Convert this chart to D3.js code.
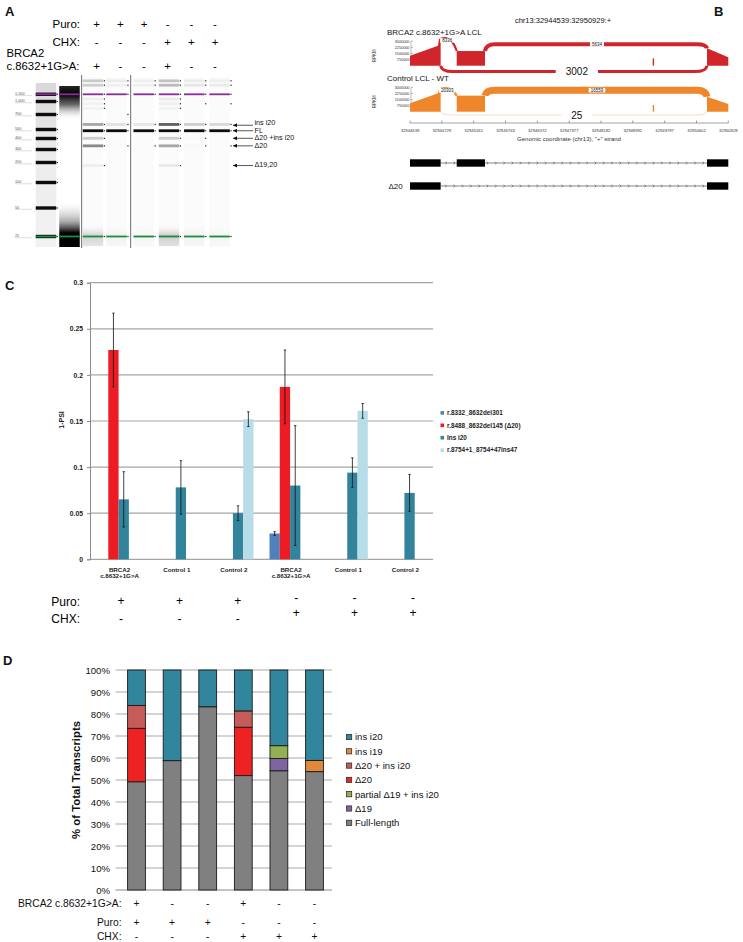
<!DOCTYPE html>
<html>
<head>
<meta charset="utf-8">
<script src="https://cdn.jsdelivr.net/npm/d3@7/dist/d3.min.js"></script>
<style>
html,body{margin:0;padding:0;background:#fff;}
svg{display:block;}
</style>
</head>
<body>
<svg id="fig" width="743" height="942" xmlns="http://www.w3.org/2000/svg"></svg>
<script>
// ================= DATA =================
// ---- Panel A : capillary gel ----
const gelLadderSizes = [25, 50, 100, 200, 300, 400, 500, 700, 1000, 1500];
const gelLanes = ["s1", "s2", "s3", "s4", "s5", "s6"];
const gelPuro = ["+", "+", "+", "-", "-", "-"];
const gelCHX = ["-", "-", "-", "+", "+", "+"];
const gelVariant = ["+", "-", "-", "+", "-", "-"];
const gelBandSizes = [3200, 2500, 1150, 940, 830, 700, 560, 485, 402, 330, 180];
const gelBandIntensity = [
  [0.32, 0.15, 0.12, 0.35, 0.15, 0.12],
  [0.30, 0.12, 0.12, 0.38, 0.18, 0.15],
  [0.12, 0, 0, 0.15, 0, 0],
  [0.10, 0, 0, 0.12, 0.03, 0.03],
  [0.10, 0, 0, 0.10, 0, 0],
  [0, 0.04, 0, 0, 0, 0],
  [0.45, 0.20, 0.18, 0.70, 0.30, 0.25],
  [0.95, 0.95, 0.95, 0.95, 0.95, 0.95],
  [0.30, 0, 0, 0.30, 0.05, 0],
  [0.55, 0.04, 0.04, 0.45, 0.06, 0.04],
  [0.12, 0, 0, 0.15, 0, 0]
];
const gelBottomSmear = [0.35, 0.08, 0.05, 0.40, 0.08, 0.05];
const gelArrowLabels = ["ins i20", "FL", "Δ20 +ins i20", "Δ20", "Δ19,20"];
const gelArrowSizes = [560, 485, 402, 330, 180];

// ---- Panel B : sashimi plot ----
const bTitle = "chr13:32944539:32950929:+";
const bTickLabels = [32944539, 32944729, 32945161, 32945763, 32946572, 32947377, 32948182, 32948992, 32949797, 32950602, 32950928];
const bYTicks = [750000, 1500000, 2250000, 3000000];
const bTrackNames = ["BRCA2 c.8632+1G>A LCL", "Control LCL - WT"];
const bExons = [[32944539, 32944722], [32944931, 32945375], [32950710, 32950928]];
const covMutant = [
  [[32944539, 1230000], [32944706, 2450000], [32944712, 3300000], [32944722, 3300000]],
  [[32944931, 1800000], [32945375, 1800000]],
  [[32950710, 2140000], [32950928, 1030000]],
  [[32949495, 900000], [32949530, 900000]]
];
const covControl = [
  [[32944539, 1030000], [32944706, 2260000], [32944712, 2800000], [32944722, 2800000]],
  [[32944931, 1970000], [32945375, 1970000]],
  [[32950710, 1840000], [32950928, 950000]],
  [[32949495, 820000], [32949530, 820000]]
];
const junMutant = [[32944722, 32944931, 8336, "up"], [32945375, 32950710, 5634, "up"], [32944722, 32950710, 3002, "down"]];
const junControl = [[32944722, 32944931, 20303, "up"], [32945375, 32950710, 16559, "up"], [32944722, 32950710, 25, "down"]];
const bIsoformLabels = ["", "Δ20"];
const bIsoformExons = [[0, 1, 2], [0, 2]];

// ---- Panel C : 1-PSI bar chart ----
const cCategories = ["BRCA2\nc.8632+1G>A", "Control 1", "Control 2", "BRCA2\nc.8632+1G>A", "Control 1", "Control 2"];
const cSeriesNames = ["r.8332_8632del301", "r.8488_8632del145 (Δ20)", "Ins i20", "r.8754+1_8754+47ins47"];
const cValues = [
  [null, null, null, 0.028, null, null],
  [0.227, null, null, 0.187, null, null],
  [0.065, 0.078, 0.050, 0.080, 0.094, 0.072],
  [null, null, 0.152, null, 0.161, null]
];
const cErrors = [
  [null, null, null, 0.002, null, null],
  [0.040, null, null, 0.040, null, null],
  [0.030, 0.029, 0.008, 0.065, 0.016, 0.020],
  [null, null, 0.008, null, 0.008, null]
];
const cYTicks = [0, 0.05, 0.1, 0.15, 0.2, 0.25, 0.3];
const cPuro = ["+", "+", "+", "-", "-", "-"];
const cCHX = ["-", "-", "-", "+", "+", "+"];

// ---- Panel D : stacked % of transcripts ----
const dKeys = ["Full-length", "Δ19", "partial Δ19 + ins i20", "Δ20", "Δ20 + ins i20", "ins i19", "ins i20"];
const dFullLength = [49.2, 58.8, 83.3, 52.0, 54.2, 53.8];
const dDelta19 = [0, 0, 0, 0, 5.6, 0];
const dPartialDelta19Ins = [0, 0, 0, 0, 5.8, 0];
const dDelta20 = [24.3, 0, 0, 22.0, 0, 0];
const dDelta20Ins = [10.4, 0, 0, 7.4, 0, 0];
const dInsI19 = [0, 0, 0, 0, 0, 5.1];
const dInsI20 = [16.1, 41.2, 16.7, 18.6, 34.4, 41.1];
const dYTicks = [0, 10, 20, 30, 40, 50, 60, 70, 80, 90, 100];
const dVariant = ["+", "-", "-", "+", "-", "-"];
const dPuro = ["+", "+", "+", "-", "-", "-"];
const dCHX = ["-", "-", "-", "+", "+", "+"];

// ================= DRAWING =================
const SANS = '"Liberation Sans", Arial, Helvetica, sans-serif';
const svg = d3.select("#fig").attr("font-family", SANS);
svg.append("rect").attr("width", 743).attr("height", 942).attr("fill", "#fff");
const defs = svg.append("defs");
defs.append("filter").attr("id", "soft").attr("x", "-20%").attr("y", "-200%").attr("width", "140%").attr("height", "500%")
  .append("feGaussianBlur").attr("stdDeviation", 0.35);
function vGrad(id, stops) {
  const g = defs.append("linearGradient").attr("id", id).attr("x1", 0).attr("y1", 0).attr("x2", 0).attr("y2", 1);
  stops.forEach(([o, c, op]) => g.append("stop").attr("offset", o).attr("stop-color", c).attr("stop-opacity", op == null ? 1 : op));
}

// panel letters
function letter(t, x, y, s) {
  svg.append("text").attr("x", x).attr("y", y).attr("font-size", s).attr("font-weight", "bold").attr("fill", "#111").text(t);
}
letter("A", 5, 16, 13); letter("B", 714, 16, 13); letter("C", 5, 290, 13); letter("D", 3, 665, 13);

// ---------- Panel A ----------
(function () {
  const g = svg.append("g");
  const yGel = d3.scaleLog().domain(gelLadderSizes)
    .range([236.5, 208, 182.5, 162.5, 149.5, 138.5, 129.5, 114.5, 101.5, 94.3]);
  const laneW = 20.5;
  const xL = d3.scalePoint().domain(["ladder", "blank", "s1", "s2"]).range([46, 116.5]);
  const xR = d3.scalePoint().domain(["s3", "s4", "s5", "s6"]).range([143.7, 219.6]);
  const laneX = id => xL.domain().includes(id) ? xL(id) : xR(id);
  const allLanes = ["ladder", "blank"].concat(gelLanes);
  const gelTop = 77, gelBottom = 247;

  vGrad("ladderBg", [[0, "#d8d8d8"], [0.45, "#ececec"], [1, "#f2f2f2"]]);
  vGrad("blankTop", [[0, "#000", 0.85], [0.25, "#000", 1], [0.55, "#444", 0.8], [1, "#fff", 0]]);
  vGrad("blankBot", [[0, "#fff", 0], [0.45, "#777", 0.6], [0.7, "#000", 1], [1, "#000", 1]]);
  vGrad("smear", [[0, "#fff", 0], [0.5, "#888", 1], [1, "#bbb", 1]]);

  g.append("rect").attr("x", laneX("ladder") - laneW / 2).attr("y", gelTop + 6).attr("width", laneW)
    .attr("height", gelBottom - gelTop - 6).attr("fill", "url(#ladderBg)");
  gelLanes.forEach(l => g.append("rect").attr("x", laneX(l) - laneW / 2).attr("y", gelTop)
    .attr("width", laneW).attr("height", gelBottom - gelTop).attr("fill", "#fbfbfb"));
  g.append("rect").attr("x", laneX("blank") - laneW / 2).attr("y", 86).attr("width", laneW).attr("height", 34)
    .attr("fill", "url(#blankTop)");
  g.append("rect").attr("x", laneX("blank") - laneW / 2).attr("y", 200).attr("width", laneW).attr("height", 47)
    .attr("fill", "url(#blankBot)");
  gelLanes.forEach((l, j) => g.append("rect").attr("x", laneX(l) - laneW / 2).attr("y", 224).attr("width", laneW)
    .attr("height", 22).attr("fill", "url(#smear)").attr("opacity", gelBottomSmear[j]));

  gelLadderSizes.forEach(s => {
    g.append("rect").attr("x", laneX("ladder") - laneW / 2).attr("y", yGel(s) - 1.7).attr("width", laneW)
      .attr("height", 3.4).attr("fill", "#0a0a0a").attr("filter", "url(#soft)");
    g.append("rect").attr("x", laneX("ladder") + laneW / 2 + 0.5).attr("y", yGel(s) - 0.6).attr("width", 1.2).attr("height", 1.2).attr("fill", "#222");
  });

  gelBandSizes.forEach((s, i) => {
    gelLanes.forEach((l, j) => {
      const v = gelBandIntensity[i][j];
      if (!v) return;
      g.append("rect").attr("x", laneX(l) - laneW / 2).attr("y", yGel(s) - 1.4).attr("width", laneW)
        .attr("height", 2.8).attr("fill", d3.interpolateGreys(v)).attr("filter", "url(#soft)");
      g.append("rect").attr("x", laneX(l) + laneW / 2 + 0.6).attr("y", yGel(s) - 0.6).attr("width", 1.2).attr("height", 1.2).attr("fill", "#222");
    });
  });

  allLanes.forEach(l => {
    g.append("rect").attr("x", laneX(l) - laneW / 2).attr("y", yGel(1500) - 0.9).attr("width", laneW).attr("height", 1.8).attr("fill", "#8a2b99");
    g.append("rect").attr("x", laneX(l) - laneW / 2).attr("y", yGel(25) - 0.9).attr("width", laneW).attr("height", 1.8).attr("fill", "#1f8a3e");
    if (l !== "ladder" && l !== "blank") {
      g.append("rect").attr("x", laneX(l) + laneW / 2 + 0.6).attr("y", yGel(1500) - 0.6).attr("width", 1.2).attr("height", 1.2).attr("fill", "#222");
      g.append("rect").attr("x", laneX(l) + laneW / 2 + 0.6).attr("y", yGel(25) - 0.6).attr("width", 1.2).attr("height", 1.2).attr("fill", "#222");
    }
  });

  gelLadderSizes.forEach(s => {
    g.append("text").attr("x", 15).attr("y", yGel(s) + 0.6).attr("font-size", 3.8).attr("fill", "#555").text(d3.format(",")(s));
    g.append("line").attr("x1", 15).attr("x2", 32).attr("y1", yGel(s) + 1.3).attr("y2", yGel(s) + 1.3).attr("stroke", "#aaa").attr("stroke-width", 0.4);
  });

  [(laneX("blank") + laneX("s1")) / 2 + 0.4, (laneX("s2") + laneX("s3")) / 2 + 0.6].forEach(x =>
    g.append("line").attr("x1", x).attr("x2", x).attr("y1", 75).attr("y2", 248).attr("stroke", "#6a6a6a").attr("stroke-width", 1));

  const xs = d3.scalePoint().domain(gelLanes).range([96.7, 215]);
  g.append("text").attr("x", 80).attr("y", 27.5).attr("text-anchor", "end").attr("font-size", 11.5).text("Puro:");
  g.append("text").attr("x", 80).attr("y", 46).attr("text-anchor", "end").attr("font-size", 11.5).text("CHX:");
  g.append("text").attr("x", 6.5).attr("y", 57).attr("font-size", 11.3).text("BRCA2");
  g.append("text").attr("x", 6.5).attr("y", 70).attr("font-size", 11.3).text("c.8632+1G>A:");
  [[gelPuro, 27.5], [gelCHX, 46], [gelVariant, 70]].forEach(([arr, y]) =>
    arr.forEach((s, i) => g.append("text").attr("x", xs(gelLanes[i])).attr("y", y).attr("text-anchor", "middle")
      .attr("font-size", 11.5).text(s)));

  defs.append("marker").attr("id", "arrA").attr("viewBox", "0 0 6 6").attr("refX", 6).attr("refY", 3)
    .attr("markerWidth", 4.5).attr("markerHeight", 4).attr("markerUnits", "userSpaceOnUse").attr("orient", "auto")
    .append("path").attr("d", "M0,0 L6,3 L0,6 z").attr("fill", "#111");
  const textShift = [-0.3, 1.8, 1.6, 2.6, 1.5];
  gelArrowSizes.forEach((s, i) => {
    const y = yGel(s) + (i === 0 ? 0.8 : 0);
    g.append("line").attr("x1", 253).attr("x2", 233).attr("y1", y).attr("y2", y).attr("stroke", "#111")
      .attr("stroke-width", 0.7).attr("marker-end", "url(#arrA)");
    g.append("text").attr("x", 254.5).attr("y", y + textShift[i]).attr("font-size", 7.2).attr("fill", "#111").text(gelArrowLabels[i]);
  });
})();

// ---------- Panel B ----------
(function () {
  const g = svg.append("g");
  const xB = d3.scaleLinear().domain(bTickLabels).range(d3.quantize(d3.interpolate(410, 728.3), bTickLabels.length));
  g.append("text").attr("x", 563).attr("y", 22.5).attr("text-anchor", "middle").attr("font-size", 7.5).attr("fill", "#111").text(bTitle);

  const tracks = [
    { name: bTrackNames[0], color: "#d0262b", base: 65.7, cov: covMutant, jun: junMutant, nameY: 34.5 },
    { name: bTrackNames[1], color: "#f0862a", base: 111.7, cov: covControl, jun: junControl, nameY: 81.2 }
  ];
  const sw = d3.scaleSqrt().domain([0, 16559]).range([0, 7]).clamp(true);
  const op = d3.scaleLog().domain([25, 3000]).range([0.3, 1]).clamp(true);

  tracks.forEach(t => {
    const y = d3.scaleLinear().domain([0, 3400000]).range([t.base, t.base - 27.7]);
    g.append("text").attr("x", 387).attr("y", t.nameY).attr("font-size", 8).attr("fill", "#111").text(t.name);
    g.append("line").attr("x1", 411).attr("x2", 411).attr("y1", y(0) - 6).attr("y2", y(3000000)).attr("stroke", "#555").attr("stroke-width", 0.4);
    bYTicks.forEach(v => {
      g.append("line").attr("x1", 411).attr("x2", 413).attr("y1", y(v)).attr("y2", y(v)).attr("stroke", "#555").attr("stroke-width", 0.4);
      g.append("text").attr("x", 409.5).attr("y", y(v) + 1.3).attr("text-anchor", "end").attr("font-size", 3.8).attr("fill", "#333").text(v);
    });
    g.append("text").attr("transform", `translate(376,${t.base - 10}) rotate(-90)`).attr("text-anchor", "middle")
      .attr("font-size", 4.5).attr("fill", "#333").text("RPKM");
    const area = d3.area().x(d => xB(d[0])).y0(t.base).y1(d => y(d[1]));
    t.cov.forEach(seg => g.append("path").attr("d", area(seg)).attr("fill", t.color));
    const covAt = pos => {
      for (const seg of t.cov) for (const p of seg) if (p[0] === pos) return p[1];
      return 0;
    };
    t.jun.forEach(([a, b, n, side]) => {
      const x1 = xB(a), x2 = xB(b);
      let w = Math.max(1, sw(n));
      let d, yp, labelY, lx;
      if (side === "up") {
        const y1 = y(covAt(a)), y2 = y(covAt(b));
        if (x2 - x1 < 30) {
          w = Math.min(w, 2.2);
          yp = Math.min(y1, y2) - 1.5;
          d = `M${x1},${y1} C${x1 + 4},${yp} ${x2 - 4},${yp} ${x2},${y2}`;
          labelY = Math.min(y1, y2) + 1.5;
          lx = (x1 + x2) / 2 - 1.5;
        } else {
          yp = Math.min(y1, y2) - 2 - w * 0.5;
          d = `M${x1},${y1} Q${x1 + 1},${yp} ${x1 + 10},${yp} L${x2 - 10},${yp} Q${x2 - 1},${yp} ${x2},${y2}`;
          labelY = yp;
          lx = (x1 + x2) / 2 + 1;
        }
      } else {
        yp = t.base + 2 + w * 1.3;
        d = `M${x1},${t.base} Q${x1 + 1},${yp} ${x1 + 12},${yp} L${x2 - 12},${yp} Q${x2 - 1},${yp} ${x2},${t.base}`;
        labelY = yp;
        lx = (x1 + x2) / 2 + 3;
      }
      g.append("path").attr("d", d).attr("fill", "none").attr("stroke", t.color).attr("stroke-width", w).attr("stroke-opacity", op(n));
      const big = side === "down";
      const fs = big ? 10 : 4.5;
      const txt = g.append("text").attr("x", lx).attr("y", labelY + fs * 0.36).attr("text-anchor", "middle")
        .attr("font-size", fs).attr("fill", "#111").text(n);
      const tw = txt.node().getComputedTextLength();
      const pad = big ? 10 : 2;
      g.insert("rect", () => txt.node()).attr("x", lx - tw / 2 - pad).attr("y", labelY - fs * 0.5).attr("width", tw + pad * 2)
        .attr("height", fs).attr("fill", "#fff");
    });
  });

  g.append("line").attr("x1", 410).attr("x2", 728.3).attr("y1", 123).attr("y2", 123).attr("stroke", "#444").attr("stroke-width", 0.5);
  bTickLabels.forEach(v => {
    g.append("line").attr("x1", xB(v)).attr("x2", xB(v)).attr("y1", 120.5).attr("y2", 123).attr("stroke", "#444").attr("stroke-width", 0.5);
    g.append("text").attr("x", xB(v)).attr("y", 131.7).attr("text-anchor", "middle").attr("font-size", 4.2).attr("fill", "#333").text(v);
  });
  g.append("text").attr("x", 569).attr("y", 140.7).attr("text-anchor", "middle").attr("font-size", 6).attr("fill", "#333")
    .text('Genomic coordinate (chr13), "+" strand');

  [163, 186].forEach((yc, r) => {
    const ex = bIsoformExons[r].map(i => bExons[i]);
    const xa = xB(ex[0][1]), xb = xB(ex[ex.length - 1][0]);
    g.append("line").attr("x1", xa).attr("x2", xb).attr("y1", yc).attr("y2", yc).attr("stroke", "#333").attr("stroke-width", 0.6);
    d3.range(xa + 6, xb - 2, 8.3).forEach(x => g.append("path").attr("d", `M${x - 1.4},${yc - 1.4} L${x},${yc} L${x - 1.4},${yc + 1.4}`)
      .attr("fill", "none").attr("stroke", "#333").attr("stroke-width", 0.5));
    ex.forEach(e => g.append("rect").attr("x", xB(e[0])).attr("y", yc - 3.7).attr("width", xB(e[1]) - xB(e[0])).attr("height", 7.4).attr("fill", "#000"));
    if (bIsoformLabels[r]) g.append("text").attr("x", 388.5).attr("y", yc + 3).attr("font-size", 8).attr("fill", "#111").text(bIsoformLabels[r]);
  });
})();

// ---------- Panel C ----------
(function () {
  const g = svg.append("g");
  const colors = ["#4f81bd", "#ed1c24", "#31849b", "#b7dde8"];
  const yC = d3.scaleLinear().domain([0, 0.3]).range([559.3, 282.7]);
  const x0 = d3.scaleBand().domain(d3.range(cCategories.length)).range([90, 433]).paddingInner(0.28).paddingOuter(0.14);
  const x1 = d3.scaleBand().domain(d3.range(cSeriesNames.length)).range([0, x0.bandwidth()]);

  cYTicks.forEach(v => g.append("line").attr("x1", 90).attr("x2", 433).attr("y1", yC(v)).attr("y2", yC(v))
    .attr("stroke", "#a5a5a5").attr("stroke-width", 1.2));
  const ax = g.append("g").attr("transform", "translate(90,0)")
    .call(d3.axisLeft(yC).tickValues(cYTicks).tickSize(3).tickPadding(4).tickFormat(d => String(+d.toFixed(2))));
  ax.attr("font-family", SANS).attr("font-size", 6.8).attr("font-weight", "bold");
  ax.select(".domain").attr("stroke", "#8a8a8a").attr("stroke-width", 1);
  ax.selectAll(".tick line").attr("stroke", "#8a8a8a");
  ax.selectAll(".tick text").attr("fill", "#222");
  g.append("text").attr("transform", "translate(64,420) rotate(-90)").attr("text-anchor", "middle").attr("font-size", 7)
    .attr("font-weight", "bold").attr("fill", "#222").text("1-PSI");

  cSeriesNames.forEach((s, si) => {
    cValues[si].forEach((v, ci) => {
      if (v == null) return;
      const x = x0(ci) + x1(si);
      g.append("rect").attr("x", x).attr("y", yC(v)).attr("width", x1.bandwidth()).attr("height", yC(0) - yC(v)).attr("fill", colors[si]);
    });
  });
  cSeriesNames.forEach((s, si) => {
    cValues[si].forEach((v, ci) => {
      const e = cErrors[si][ci];
      if (v == null || e == null) return;
      const cx = x0(ci) + x1(si) + x1.bandwidth() / 2;
      g.append("line").attr("x1", cx).attr("x2", cx).attr("y1", yC(v - e)).attr("y2", yC(v + e)).attr("stroke", "#111").attr("stroke-width", 0.8);
      [v - e, v + e].forEach(b => g.append("line").attr("x1", cx - 1.2).attr("x2", cx + 1.2).attr("y1", yC(b)).attr("y2", yC(b))
        .attr("stroke", "#111").attr("stroke-width", 0.8));
    });
  });

  cCategories.forEach((c, ci) => {
    const t = g.append("text").attr("text-anchor", "middle").attr("font-size", 6.2).attr("font-weight", "bold").attr("fill", "#222");
    c.split("\n").forEach((line, li) => t.append("tspan").attr("x", x0(ci) + x0.bandwidth() / 2 + 1).attr("y", 571.5 + li * 6.6).text(line));
  });

  cSeriesNames.forEach((s, si) => {
    const yy = 413 + si * 12.4;
    g.append("rect").attr("x", 440.5).attr("y", yy - 1.9).attr("width", 3.6).attr("height", 3.6).attr("fill", colors[si]);
    g.append("text").attr("x", 447).attr("y", yy + 2.2).attr("font-size", 6.4).attr("font-weight", "bold").attr("fill", "#222").text(s);
  });

  const xs = d3.scalePoint().domain(d3.range(6)).range([121, 413]);
  g.append("text").attr("x", 80).attr("y", 606).attr("text-anchor", "end").attr("font-size", 12).text("Puro:");
  g.append("text").attr("x", 80).attr("y", 623.3).attr("text-anchor", "end").attr("font-size", 12).text("CHX:");
  [cPuro, cCHX].forEach((arr, r) => arr.forEach((s, i) => {
    const y = (i < 3 ? [605, 623] : [601.7, 617.3])[r];
    g.append("text").attr("x", xs(i)).attr("y", y).attr("text-anchor", "middle").attr("font-size", 12).text(s);
  }));
})();

// ---------- Panel D ----------
(function () {
  const g = svg.append("g");
  const colorMap = {
    "Full-length": "#808080", "Δ19": "#8064a2", "partial Δ19 + ins i20": "#93b150", "Δ20": "#ee2222",
    "Δ20 + ins i20": "#c65c59", "ins i19": "#e3883a", "ins i20": "#31859c"
  };
  const cols = [dFullLength, dDelta19, dPartialDelta19Ins, dDelta20, dDelta20Ins, dInsI19, dInsI20];
  const rows = d3.range(dFullLength.length).map(i => {
    const o = { i };
    dKeys.forEach((k, ki) => o[k] = cols[ki][i]);
    return o;
  });
  const stack = d3.stack().keys(dKeys)(rows);
  const yD = d3.scaleLinear().domain([0, 100]).range([890, 670]);
  const xD = d3.scaleBand().domain(d3.range(rows.length)).range([118.7, 332.3]).paddingInner(0.5).paddingOuter(0.25);

  dYTicks.forEach(v => g.append("line").attr("x1", 115.5).attr("x2", 332).attr("y1", yD(v)).attr("y2", yD(v))
    .attr("stroke", v === 0 ? "#8a8a8a" : "#a9a9a9").attr("stroke-width", 1));
  const ax = g.append("g").attr("transform", "translate(116.5,0)")
    .call(d3.axisLeft(yD).tickValues(dYTicks).tickSize(0).tickPadding(6.5).tickFormat(d => d + "%"));
  ax.attr("font-family", SANS).attr("font-size", 9.6);
  ax.select(".domain").remove();
  ax.selectAll(".tick text").attr("fill", "#111");
  g.append("text").attr("transform", "translate(80,780) rotate(-90)").attr("text-anchor", "middle").attr("font-size", 11.4)
    .attr("font-weight", "bold").attr("fill", "#111").text("% of Total Transcripts");

  stack.forEach(layer => layer.forEach((d, i) => {
    if (d[1] - d[0] <= 0) return;
    g.append("rect").attr("x", xD(i)).attr("y", yD(d[1])).attr("width", xD.bandwidth()).attr("height", yD(d[0]) - yD(d[1]))
      .attr("fill", colorMap[layer.key]).attr("stroke", "#1a1a1a").attr("stroke-width", 0.9);
  }));

  dKeys.slice().reverse().forEach((k, li) => {
    const yy = 737 + li * 14.3;
    g.append("rect").attr("x", 346.5).attr("y", yy - 2.6).attr("width", 5.2).attr("height", 5.2).attr("fill", colorMap[k])
      .attr("stroke", "#333").attr("stroke-width", 0.8);
    g.append("text").attr("x", 355).attr("y", yy + 3.4).attr("font-size", 9.5).attr("fill", "#111").text(k);
  });

  [["BRCA2 c.8632+1G>A:", dVariant, 907], ["Puro:", dPuro, 925.5], ["CHX:", dCHX, 939.8]].forEach(([lab, arr, y]) => {
    g.append("text").attr("x", 121.5).attr("y", y).attr("text-anchor", "end").attr("font-size", 10.3).attr("fill", "#111").text(lab);
    arr.forEach((s, i) => g.append("text").attr("x", xD(i) + xD.bandwidth() / 2).attr("y", y).attr("text-anchor", "middle")
      .attr("font-size", 10.3).attr("fill", "#111").text(s));
  });
})();
</script>
</body>
</html>
